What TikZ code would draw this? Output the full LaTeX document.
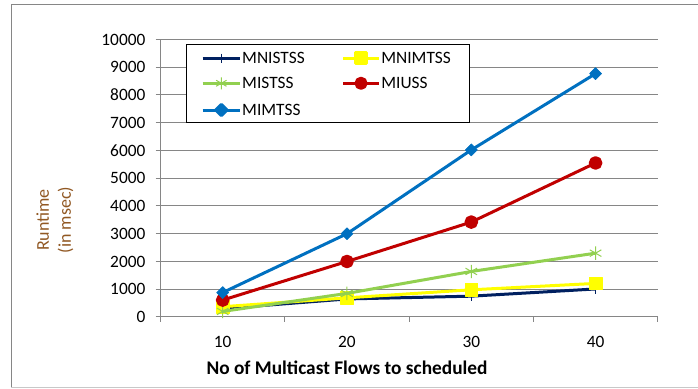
\documentclass[tikz,border=0pt]{standalone}
\usepackage{fontspec}
\setmainfont{Carlito}
\usetikzlibrary{plotmarks}
\definecolor{navyline}{RGB}{0,32,96}
\definecolor{yellowline}{RGB}{255,255,0}
\definecolor{greenline}{RGB}{146,208,80}
\definecolor{redline}{RGB}{192,0,0}
\definecolor{blueline}{RGB}{0,112,192}
\definecolor{gridgray}{RGB}{134,134,134}
\definecolor{framegray}{RGB}{200,200,200}
\definecolor{titlebrown}{RGB}{145,88,35}
\tikzset{
  series/.style={line width=2.25pt,line join=round},
  gridline/.style={draw=gridgray,line width=0.75pt},
  ticklabel/.style={inner sep=0pt},
  legtext/.style={inner sep=0pt,anchor=west},
}
\begin{document}
\begin{tikzpicture}[x=9.3225pt,y=0.0208125pt]
\fontsize{13}{15}\selectfont
\useasboundingbox (-7.917,-2595) rectangle (48.24,11423);
% chart area frame
\draw[gridgray,line width=0.75pt] (-7.03,-2559) -- (-7.03,11243) -- (48.3,11243);
\draw[framegray,line width=0.75pt] (-7.03,-2559) -- (48.3,-2559);
% grid and axes
\foreach \v in {1000,2000,...,10000}
  \draw[gridline] (4.6,\v) -- (45,\v);
\draw[gridline] (4.6,0) -- (45,0);
\draw[gridline] (5,0) -- (5,10000);
\foreach \t in {5,15,...,45}
  \draw[gridline] (\t,0) -- (\t,-180);
\foreach \v in {0,1000,...,10000}
  \node[ticklabel,anchor=east] (y\v) at (3.8,\v) {\v};
\foreach \c in {10,20,30,40}
  \node[ticklabel] (x\c) at (\c,-890) {\c};
\node[font=\fontsize{14.5}{17}\selectfont\bfseries] (xtitle) at (20,-1838) {No of Multicast Flows to scheduled};
\node[rotate=90,align=center,text=titlebrown,font=\fontsize{13.5}{16.5}\selectfont] (ytitle) at (-3.49,3495) {Runtime\\(in msec)};
% series
\draw[series,navyline] plot[mark=+,mark size=3.5pt,mark options={line width=1pt}]
  coordinates {(10,300) (20,650) (30,750) (40,1010)};
\draw[series,yellowline] plot[mark=square*,mark size=4.8pt,mark options={fill=yellowline,line width=0.5pt}]
  coordinates {(10,370) (20,690) (30,980) (40,1210)};
\draw[series,greenline] plot[mark=asterisk,mark size=5pt,mark options={line width=0.75pt}]
  coordinates {(10,200) (20,850) (30,1640) (40,2300)};
\draw[series,redline] plot[mark=*,mark size=4pt,mark options={fill=redline}]
  coordinates {(10,610) (20,2000) (30,3420) (40,5550)};
\draw[series,blueline] plot[mark=diamond*,mark size=4.5pt,mark options={fill=blueline,xscale=1.33,line width=0.5pt}]
  coordinates {(10,880) (20,3000) (30,6020) (40,8770)};
% legend
\draw[black,line width=0.75pt,fill=white] (7.05,9802) rectangle (29.82,6991);
\node[legtext] (lgMNISTSS) at (11.55,9323) {MNISTSS};
\node[legtext] (lgMNIMTSS) at (22.74,9323) {MNIMTSS};
\node[legtext] (lgMISTSS) at (11.55,8422) {MISTSS};
\node[legtext] (lgMIUSS) at (22.74,8422) {MIUSS};
\node[legtext] (lgMIMTSS) at (11.55,7459) {MIMTSS};
\draw[series,navyline] plot[mark=+,mark size=3.5pt,mark indices={2},mark options={line width=1pt}]
  coordinates {(8.39,9323) (9.89,9323) (11.39,9323)};
\draw[series,yellowline] plot[mark=square*,mark size=4.2pt,mark indices={2},mark options={fill=yellowline}]
  coordinates {(19.68,9323) (21.13,9323) (22.58,9323)};
\draw[series,greenline] plot[mark=asterisk,mark size=4.5pt,mark indices={2},mark options={line width=0.75pt}]
  coordinates {(8.39,8422) (9.89,8422) (11.39,8422)};
\draw[series,redline] plot[mark=*,mark size=3.8pt,mark indices={2},mark options={fill=redline}]
  coordinates {(19.68,8422) (21.13,8422) (22.58,8422)};
\draw[series,blueline] plot[mark=diamond*,mark size=4.2pt,mark indices={2},mark options={fill=blueline,xscale=1.33}]
  coordinates {(8.39,7459) (9.89,7459) (11.39,7459)};
\end{tikzpicture}
\end{document}
